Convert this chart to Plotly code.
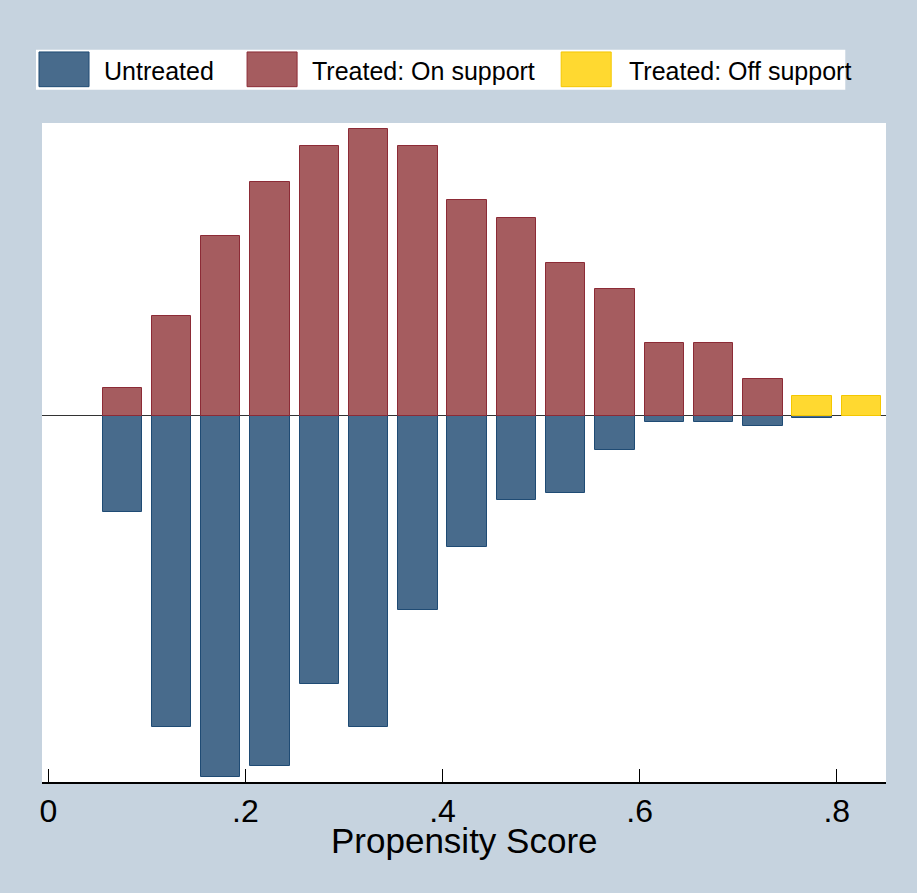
import plotly.graph_objects as go

# Propensity-score histogram bins (bin centres, width 0.05) and densities
bin_centers = [0.075, 0.125, 0.175, 0.225, 0.275, 0.325, 0.375, 0.425,
               0.475, 0.525, 0.575, 0.625, 0.675, 0.725, 0.775, 0.825]
untreated = [0.855, 2.755, 3.195, 3.097, 2.372, 2.755, 1.719, 1.162,
             0.746, 0.687, 0.306, 0.058, 0.058, 0.094, 0.023, 0.0]
treated_on = [0.243, 0.885, 1.584, 2.062, 2.381, 2.535, 2.381, 1.903,
              1.750, 1.349, 1.121, 0.646, 0.646, 0.325, None, None]
treated_off = [None] * 14 + [0.172, 0.172]

x_ticks = [0, 0.2, 0.4, 0.6, 0.8]
x_ticktext = ["0", ".2", ".4", ".6", ".8"]
legend_labels = ["Untreated", "Treated: On support", "Treated: Off support"]

BLUE, BLUE_LINE = "#486b8c", "#1f4b74"
RED, RED_LINE = "#a55c5f", "#8c2b36"
YEL, YEL_LINE = "#ffd930", "#f4c700"
BG = "#c6d3df"
FONT = "Liberation Sans, Arial, sans-serif"

W, H = 917, 893
L, R, T, B = 42, 885.7, 123.3, 782.0


def px(x):
    return (x - L) / (R - L)


def py(y):
    return (B - y) / (B - T)


fig = go.Figure()
fig.add_trace(go.Bar(x=bin_centers, y=[-v for v in untreated], width=0.04,
                     marker=dict(color=BLUE, line=dict(color=BLUE_LINE, width=1)),
                     showlegend=False))
fig.add_trace(go.Bar(x=bin_centers, y=treated_on, width=0.04,
                     marker=dict(color=RED, line=dict(color=RED_LINE, width=1)),
                     showlegend=False))
fig.add_trace(go.Bar(x=bin_centers, y=treated_off, width=0.04,
                     marker=dict(color=YEL, line=dict(color=YEL_LINE, width=1)),
                     showlegend=False))

# Legend drawn as a white box with large swatches
shapes = [dict(type="rect", xref="paper", yref="paper",
               x0=px(36), x1=px(845), y0=py(90), y1=py(50),
               fillcolor="white", line=dict(width=0), layer="above")]
annotations = []
swatch_x = [39, 247, 561]
text_x = [102, 310, 627]
fills = [(BLUE, BLUE_LINE), (RED, RED_LINE), (YEL, YEL_LINE)]
for sx, tx, (fc, lc), lab in zip(swatch_x, text_x, fills, legend_labels):
    shapes.append(dict(type="rect", xref="paper", yref="paper",
                       x0=px(sx), x1=px(sx + 50), y0=py(87), y1=py(52.3),
                       fillcolor=fc, line=dict(color=lc, width=1), layer="above"))
    annotations.append(dict(xref="paper", yref="paper", x=px(tx), y=py(71),
                            xanchor="left", yanchor="middle", text=lab,
                            showarrow=False,
                            font=dict(family=FONT, size=25, color="black")))

annotations.append(dict(xref="paper", yref="paper", x=px(464), y=py(840),
                        xanchor="center", yanchor="middle",
                        text="Propensity Score", showarrow=False,
                        font=dict(family=FONT, size=35, color="black")))

fig.update_layout(
    width=W, height=H,
    margin=dict(l=L, r=W - R, t=T, b=H - B, pad=0),
    paper_bgcolor=BG, plot_bgcolor="white",
    barmode="relative", bargap=0,
    shapes=shapes, annotations=annotations,
    font=dict(family=FONT, color="black"),
    xaxis=dict(range=[-0.0064, 0.850], tickvals=x_ticks, ticktext=x_ticktext,
               ticks="inside", ticklen=13, tickwidth=1.3, tickcolor="black",
               showline=True, linecolor="black", linewidth=1.5,
               showgrid=False, zeroline=False,
               tickfont=dict(family=FONT, size=32, color="black")),
    yaxis=dict(range=[-3.242, 2.588], showticklabels=False, showgrid=False,
               showline=False, ticks="", zeroline=True,
               zerolinecolor="#333333", zerolinewidth=1.3),
)

fig.write_html("out.html")
